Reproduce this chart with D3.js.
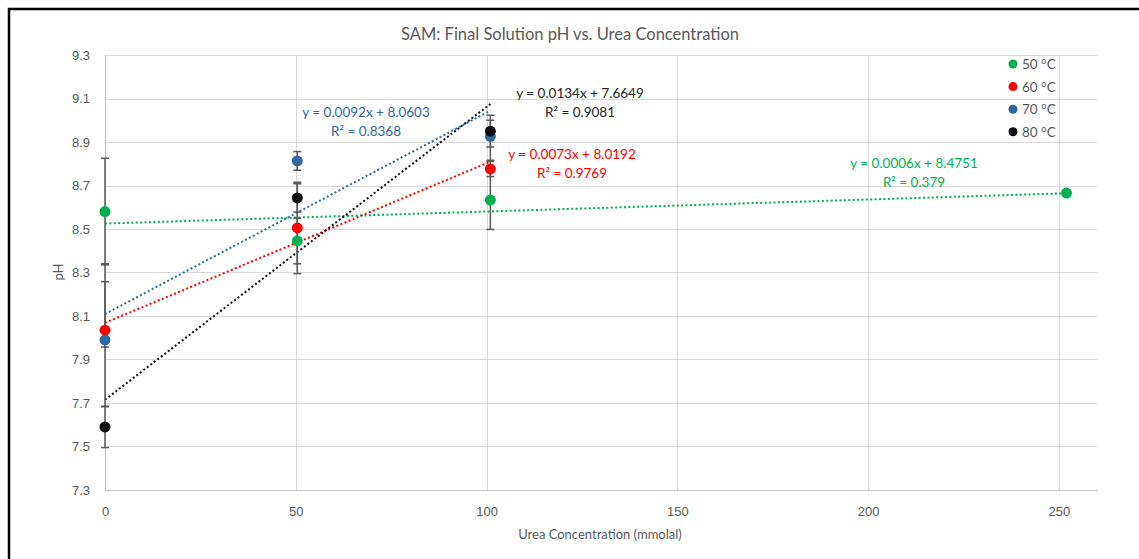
<!DOCTYPE html>
<html>
<head>
<meta charset="utf-8">
<script src="https://cdn.jsdelivr.net/npm/d3@7"></script>
<style>
  body { margin: 0; background: #fff; }
  svg { font-family: Lato, Calibri, "Open Sans", sans-serif; }
</style>
</head>
<body>
<svg id="chart" width="1139" height="559"></svg>
<script>
// data
const xTicks = [0, 50, 100, 150, 200, 250];
const yTicks = [7.3, 7.5, 7.7, 7.9, 8.1, 8.3, 8.5, 8.7, 8.9, 9.1, 9.3];

const urea50 = [0, 50.4, 101, 252];
const ph50 = [8.58, 8.445, 8.633, 8.665];
const err50Plus = [0.245, 0.105, 0.135, 0];
const err50Minus = [0.245, 0.105, 0.135, 0];

const urea = [0, 50.4, 101];
const ph60 = [8.035, 8.505, 8.776];
const err60Plus = [0.223, 0.21, 0.035];
const err60Minus = [0.352, 0.21, 0.035];

const ph70 = [7.99, 8.813, 8.926];
const err70Plus = [0.35, 0.043, 0.074];
const err70Minus = [0.033, 0.043, 0.11];

const ph80 = [7.59, 8.643, 8.95];
const err80Plus = [0.095, 0.065, 0.073];
const err80Minus = [0.095, 0.065, 0.073];

const seriesNames = ['50 °C', '60 °C', '70 °C', '80 °C'];
const colors = ['#00b050', '#ff0000', '#2e6aa1', '#0d0d0d'];
const eqLabels = [
  ['y = 0.0006x + 8.4751', 'R² = 0.379'],
  ['y = 0.0073x + 8.0192', 'R² = 0.9769'],
  ['y = 0.0092x + 8.0603', 'R² = 0.8368'],
  ['y = 0.0134x + 7.6649', 'R² = 0.9081']
];

const series = [
  {x: urea50, y: ph50, plus: err50Plus, minus: err50Minus},
  {x: urea, y: ph60, plus: err60Plus, minus: err60Minus},
  {x: urea, y: ph70, plus: err70Plus, minus: err70Minus},
  {x: urea, y: ph80, plus: err80Plus, minus: err80Minus}
];

const margin = {top: 55, right: 42, bottom: 69, left: 105};
const width = 1139 - margin.left - margin.right;
const height = 559 - margin.top - margin.bottom;

const svg = d3.select('#chart');

// chart frame (cropped on the right and bottom)
svg.append('path')
  .attr('d', 'M9,559 V9 H1139')
  .attr('fill', 'none')
  .attr('stroke', '#000')
  .attr('stroke-width', 2.5);

const x = d3.scaleLinear().domain([0, 260]).range([0, width]);
const y = d3.scaleLinear().domain([7.3, 9.3]).range([height, 0]);

const g = svg.append('g')
  .attr('transform', `translate(${margin.left},${margin.top})`);

// gridlines
g.append('g').selectAll('line')
  .data(yTicks.slice(1))
  .enter().append('line')
  .attr('x1', 0).attr('x2', width)
  .attr('y1', d => Math.round(y(d)) + 0.5).attr('y2', d => Math.round(y(d)) + 0.5)
  .attr('stroke', '#d9d9d9');

g.append('g').selectAll('line')
  .data(xTicks.slice(1))
  .enter().append('line')
  .attr('x1', d => Math.round(x(d)) + 0.5).attr('x2', d => Math.round(x(d)) + 0.5)
  .attr('y1', 0).attr('y2', height)
  .attr('stroke', '#d9d9d9');

// axes
const xAxis = g.append('g')
  .attr('transform', `translate(0,${height})`)
  .call(d3.axisBottom(x).tickValues(xTicks).tickSize(0).tickPadding(17));
xAxis.select('.domain').attr('stroke', '#bfbfbf');

const yAxis = g.append('g')
  .call(d3.axisLeft(y).tickValues(yTicks).tickFormat(d3.format('.1f')).tickSize(0).tickPadding(15));
yAxis.select('.domain').attr('stroke', '#bfbfbf');

g.selectAll('.tick text')
  .attr('fill', '#595959')
  .style('font-size', '13px');

// trendlines (least squares over each series)
function fit(xs, ys) {
  const mx = d3.mean(xs), my = d3.mean(ys);
  const sxy = d3.sum(xs, (v, i) => (v - mx) * (ys[i] - my));
  const sxx = d3.sum(xs, v => (v - mx) * (v - mx));
  const slope = sxy / sxx;
  return {slope: slope, intercept: my - slope * mx};
}

series.forEach((s, i) => {
  const f = fit(s.x, s.y);
  const x0 = 0, x1 = d3.max(s.x);
  g.append('line')
    .attr('x1', x(x0)).attr('y1', y(f.intercept + f.slope * x0))
    .attr('x2', x(x1)).attr('y2', y(f.intercept + f.slope * x1))
    .attr('stroke', colors[i])
    .attr('stroke-width', 2)
    .attr('stroke-dasharray', '2,2.4');
});

// error bars
series.forEach((s) => {
  const eb = g.append('g').attr('stroke', '#595959').attr('stroke-width', 1.5);
  s.x.forEach((xv, j) => {
    if (!s.plus[j] && !s.minus[j]) return;
    const top = y(s.y[j] + s.plus[j]);
    const bot = y(s.y[j] - s.minus[j]);
    const cx = x(xv);
    eb.append('line').attr('x1', cx).attr('x2', cx).attr('y1', top).attr('y2', bot);
    eb.append('line').attr('x1', cx - 4).attr('x2', cx + 4).attr('y1', top).attr('y2', top);
    eb.append('line').attr('x1', cx - 4).attr('x2', cx + 4).attr('y1', bot).attr('y2', bot);
  });
});

// markers
series.forEach((s, i) => {
  g.append('g').selectAll('circle')
    .data(s.x.map((v, j) => [v, s.y[j]]))
    .enter().append('circle')
    .attr('cx', d => x(d[0]))
    .attr('cy', d => y(d[1]))
    .attr('r', 5.5)
    .attr('fill', colors[i]);
});

// trendline equation labels
const labelPos = [[914, 163], [572, 154], [366, 112], [580, 93]];
labelPos.forEach((p, i) => {
  const t = svg.append('text')
    .attr('text-anchor', 'middle')
    .attr('fill', colors[i] === '#0d0d0d' ? '#262626' : colors[i])
    .style('font-size', '13.5px');
  t.append('tspan').attr('x', p[0]).attr('y', p[1] + 5).text(eqLabels[i][0]);
  t.append('tspan').attr('x', p[0]).attr('y', p[1] + 24).text(eqLabels[i][1]);
});

// legend
const legend = svg.append('g').attr('transform', 'translate(1013,64)');
seriesNames.forEach((name, i) => {
  const row = legend.append('g').attr('transform', `translate(0,${i * 22.6})`);
  row.append('circle').attr('r', 4.5).attr('fill', colors[i]);
  row.append('text')
    .attr('x', 9).attr('y', 5)
    .attr('fill', '#595959')
    .style('font-size', '13.5px')
    .text(name);
});

// title and axis titles
svg.append('text')
  .attr('x', 570).attr('y', 40)
  .attr('text-anchor', 'middle')
  .attr('fill', '#595959')
  .style('font-size', '16.5px')
  .text('SAM: Final Solution pH vs. Urea Concentration');

svg.append('text')
  .attr('x', 600).attr('y', 539)
  .attr('text-anchor', 'middle')
  .attr('fill', '#595959')
  .style('font-size', '13px')
  .text('Urea Concentration (mmolal)');

svg.append('text')
  .attr('transform', 'translate(63,272) rotate(-90)')
  .attr('text-anchor', 'middle')
  .attr('fill', '#595959')
  .style('font-size', '13px')
  .text('pH');
</script>
</body>
</html>
